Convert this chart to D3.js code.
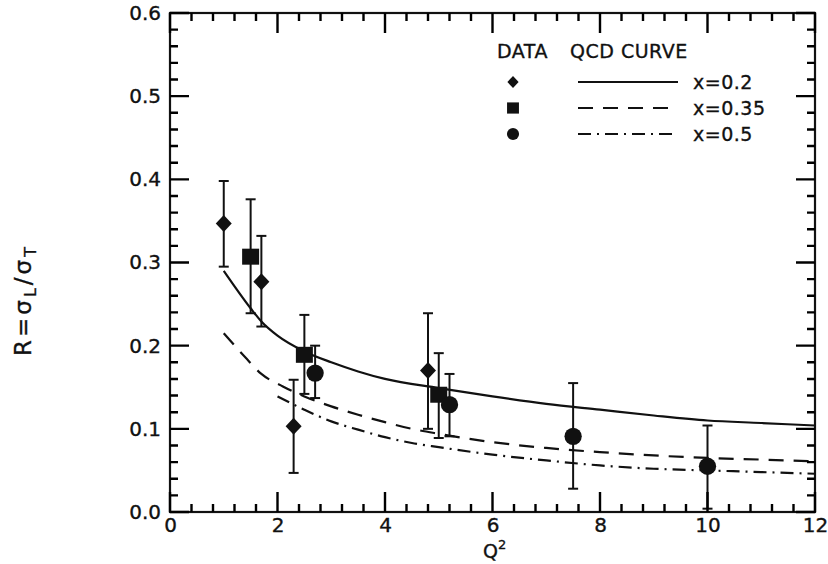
<!DOCTYPE html>
<head>
    <meta charset="utf-8">
    <script src="https://d3js.org/d3.v7.min.js"></script>
    <style>
      body { margin: 0; background: white; }
      text {
        font-family: "DejaVu Sans";
        fill: #111;
        stroke: #111;
        stroke-width: 0.35px;
      }
      .ticklabel { font-size: 20px; }
      .legendtext { font-size: 19px; letter-spacing: 0.5px; }
    </style>
<body>
    <script>
        // DATA
        var q2Diamond = [1.0, 1.7, 2.3, 4.8]
        var rDiamond = [0.347, 0.277, 0.103, 0.170]
        var loDiamond = [0.295, 0.223, 0.047, 0.100]
        var hiDiamond = [0.398, 0.332, 0.159, 0.239]

        var q2Square = [1.5, 2.5, 5.0]
        var rSquare = [0.307, 0.189, 0.141]
        var loSquare = [0.239, 0.142, 0.089]
        var hiSquare = [0.376, 0.237, 0.191]

        var q2Circle = [2.7, 5.2, 7.5, 10.0]
        var rCircle = [0.167, 0.129, 0.091, 0.055]
        var loCircle = [0.137, 0.091, 0.028, 0.004]
        var hiCircle = [0.200, 0.166, 0.155, 0.104]

        // QCD curves
        var q2Solid = [1.0, 1.5, 1.7, 2.0, 2.5, 3.0, 3.5, 4.0, 5.0, 6.0, 7.0, 8.0, 9.0, 10, 11, 12]
        var rSolid = [0.290, 0.245, 0.229, 0.212, 0.193, 0.180, 0.169, 0.160, 0.149, 0.139, 0.130, 0.123, 0.116, 0.110, 0.107, 0.104]
        var q2Dashed = [1.0, 1.4, 1.7, 2.1, 2.5, 3.0, 3.5, 4.0, 4.5, 5.0, 6.0, 7.0, 8.0, 9.0, 10, 11, 12]
        var rDashed = [0.215, 0.186, 0.166, 0.151, 0.139, 0.127, 0.117, 0.108, 0.100, 0.094, 0.084, 0.077, 0.072, 0.068, 0.065, 0.063, 0.061]
        var q2DashDot = [2.0, 2.5, 3.0, 3.5, 4.0, 4.5, 5.0, 6.0, 7.0, 8.0, 9.0, 10, 11, 12]
        var rDashDot = [0.139, 0.123, 0.109, 0.099, 0.090, 0.083, 0.078, 0.069, 0.062, 0.056, 0.052, 0.050, 0.048, 0.046]

        var legendLabels = ["x=0.2", "x=0.35", "x=0.5"]
        var xTicks = [0, 2, 4, 6, 8, 10, 12]
        var yTicks = [0.0, 0.1, 0.2, 0.3, 0.4, 0.5, 0.6]

        var svg_w = 828
        var svg_h = 564
        var svg = d3.select("body").append("svg")
          .attr("width", svg_w)
          .attr("height", svg_h)

        var x = d3.scaleLinear().domain([0, 12]).range([170, 815])
        var y = d3.scaleLinear().domain([0, 0.6]).range([512, 13])

        // tick labels through the axes
        var xAxis = svg.append("g").attr("transform", "translate(0,512)")
          .call(d3.axisBottom(x).tickValues(xTicks).tickSize(0).tickPadding(6).tickFormat(d3.format("d")))
        var yAxis = svg.append("g").attr("transform", "translate(170,0)")
          .call(d3.axisLeft(y).tickValues(yTicks).tickSize(0).tickPadding(9).tickFormat(d3.format(".1f")))
        ;[xAxis, yAxis].forEach(function(a) {
          a.select(".domain").remove()
          a.attr("font-family", null).attr("font-size", null)
          a.selectAll("text").attr("class", "ticklabel")
        })

        // axis titles
        svg.append("text")
          .attr("x", 483).attr("y", 558)
          .attr("font-size", "19px")
          .text("Q")
          .append("tspan").attr("dy", -9).attr("font-size", "13px").text("2")

        var ylab = svg.append("text")
          .attr("transform", "translate(31,300) rotate(-90)")
          .attr("text-anchor", "middle")
          .attr("font-size", "23px")
          .attr("letter-spacing", "3px")
        ylab.append("tspan").text("R=σ")
        ylab.append("tspan").attr("dy", 5).attr("font-size", "16px").text("L")
        ylab.append("tspan").attr("dy", -5).text("/σ")
        ylab.append("tspan").attr("dy", 5).attr("font-size", "16px").text("T")

        // CURVES
        var line = d3.line()
          .x(function(d) { return x(d[0]) })
          .y(function(d) { return y(d[1]) })
          .curve(d3.curveMonotoneX)
        var curves = [
          {q: q2Solid, r: rSolid, dash: null},
          {q: q2Dashed, r: rDashed, dash: "15,10"},
          {q: q2DashDot, r: rDashDot, dash: "13,6,2,6"}
        ]
        svg.selectAll(".qcd")
          .data(curves)
          .enter()
          .append("path")
          .classed("qcd", true)
          .attr("d", function(c) { return line(c.q.map(function(v, i) { return [v, c.r[i]] })) })
          .attr("fill", "none")
          .attr("stroke", "#111")
          .attr("stroke-width", 2.2)
          .attr("stroke-dasharray", function(c) { return c.dash })

        // DATA POINTS with error bars
        function zip(q, r, lo, hi) {
          return q.map(function(v, i) { return {q: v, r: r[i], lo: lo[i], hi: hi[i]} })
        }
        var sets = [
          {pts: zip(q2Diamond, rDiamond, loDiamond, hiDiamond), sym: "diamond"},
          {pts: zip(q2Square, rSquare, loSquare, hiSquare), sym: "square"},
          {pts: zip(q2Circle, rCircle, loCircle, hiCircle), sym: "circle"}
        ]
        var symPath = {
          diamond: "M0,-8.5L8,0L0,8.5L-8,0Z",
          square: "M-8.5,-8L8.5,-8L8.5,8L-8.5,8Z",
          circle: d3.symbol().type(d3.symbolCircle).size(235)()
        }
        sets.forEach(function(s) {
          var g = svg.append("g")
          var pt = g.selectAll(".pt").data(s.pts).enter().append("g")
            .attr("transform", function(d) { return "translate(" + x(d.q) + ",0)" })
          pt.append("line")
            .attr("y1", function(d) { return y(d.lo) })
            .attr("y2", function(d) { return y(d.hi) })
            .attr("stroke", "#111").attr("stroke-width", 2)
          pt.append("line")
            .attr("x1", -5).attr("x2", 5)
            .attr("y1", function(d) { return y(d.lo) }).attr("y2", function(d) { return y(d.lo) })
            .attr("stroke", "#111").attr("stroke-width", 2)
          pt.append("line")
            .attr("x1", -5).attr("x2", 5)
            .attr("y1", function(d) { return y(d.hi) }).attr("y2", function(d) { return y(d.hi) })
            .attr("stroke", "#111").attr("stroke-width", 2)
          pt.append("path")
            .attr("transform", function(d) { return "translate(0," + y(d.r) + ")" })
            .attr("d", symPath[s.sym])
            .attr("fill", "#111")
        })

        // LEGEND
        var legend = svg.append("g")
        legend.append("text").attr("class", "legendtext").attr("x", 497).attr("y", 58).text("DATA")
        legend.append("text").attr("class", "legendtext").attr("x", 570).attr("y", 58).text("QCD CURVE")
        var legendSyms = ["diamond", "square", "circle"]
        var legendRow = d3.scaleBand().domain(legendLabels).range([69, 147])
        legendLabels.forEach(function(lab, i) {
          var cy = legendRow(lab) + legendRow.bandwidth() / 2
          legend.append("path")
            .attr("transform", "translate(513," + cy + ") scale(0.7)")
            .attr("d", symPath[legendSyms[i]])
            .attr("fill", "#111")
          legend.append("line")
            .attr("x1", 578).attr("x2", 678)
            .attr("y1", cy).attr("y2", cy)
            .attr("stroke", "#111").attr("stroke-width", 2)
            .attr("stroke-dasharray", curves[i].dash)
          legend.append("text").attr("class", "legendtext")
            .attr("x", 693).attr("y", cy + 7)
            .text(lab)
        })

        // frame
        svg.append("rect")
          .attr("x", x(0)).attr("y", y(0.6))
          .attr("width", x(12) - x(0)).attr("height", y(0) - y(0.6))
          .attr("fill", "none").attr("stroke", "#111").attr("stroke-width", 2.2)

        // TICKS - inward on all four sides, drawn last
        var minorX = d3.range(0, 12.01, 0.4)
        var minorY = d3.range(0, 0.601, 0.02)
        var tickPath = ""
        minorX.forEach(function(d) {
          var len = (Math.abs(d / 2 - Math.round(d / 2)) < 1e-6) ? 20 : 8
          tickPath += "M" + x(d) + "," + y(0) + "v" + (-len)
          tickPath += "M" + x(d) + "," + y(0.6) + "v" + len
        })
        minorY.forEach(function(d) {
          var len = (Math.abs(d * 10 - Math.round(d * 10)) < 1e-6) ? 19 : 8
          tickPath += "M" + x(0) + "," + y(d) + "h" + len
          tickPath += "M" + x(12) + "," + y(d) + "h" + (-len)
        })
        svg.append("path")
          .attr("d", tickPath)
          .attr("fill", "none")
          .attr("stroke", "#000")
          .attr("stroke-width", 2.4)
    </script>
</body>
